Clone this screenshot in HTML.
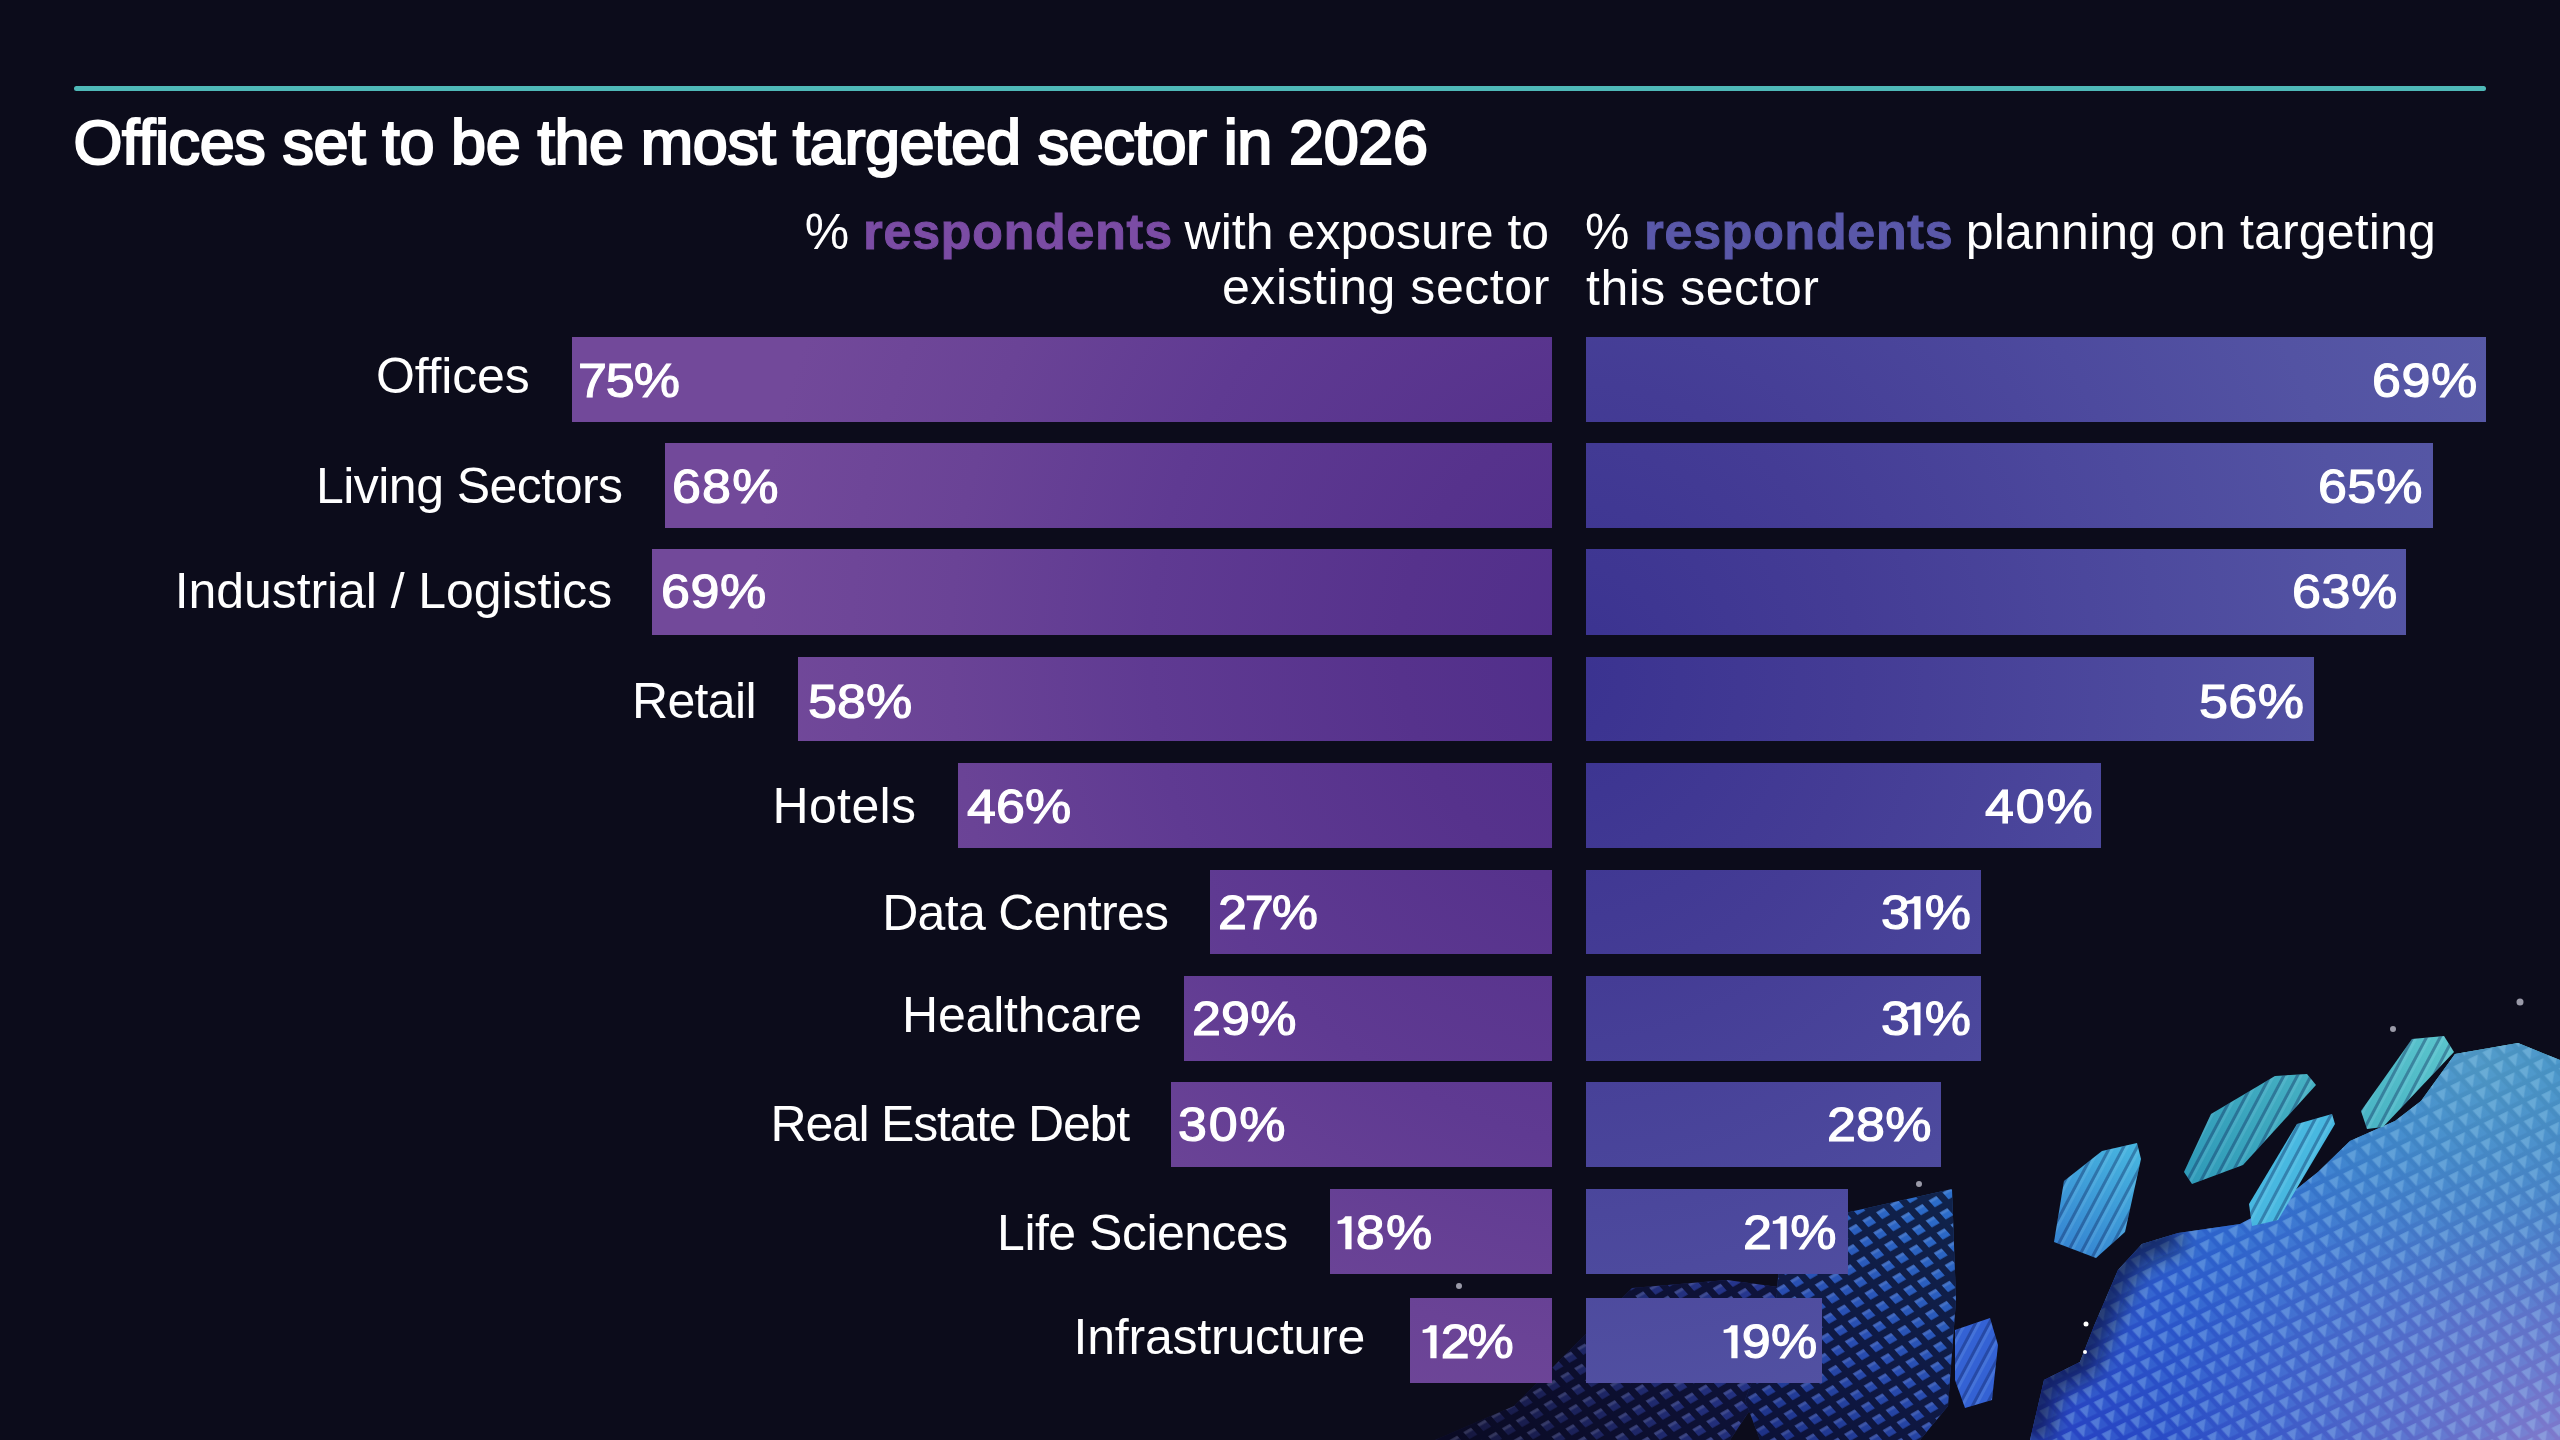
<!DOCTYPE html>
<html><head><meta charset="utf-8">
<style>
html,body{margin:0;padding:0;}
body{width:2560px;height:1440px;overflow:hidden;background:#0c0c1b;position:relative;font-family:"Liberation Sans",sans-serif;color:#fff;}
#rule{position:absolute;left:74px;top:85.5px;width:2412px;height:5px;border-radius:2.5px;background:#4fb9b8;}
.tx{position:absolute;line-height:1;white-space:nowrap;}
svg.one{vertical-align:top;}
.bl{position:absolute;background-image:radial-gradient(circle at 1650px 650px,#4e2d8a 0px,#56328c 250px,#5f3a92 500px,#6a4396 700px,#72499a 900px);background-size:2560px 1440px;background-repeat:no-repeat;}
.br{position:absolute;background-image:radial-gradient(circle at 1560px 680px,#3a3290 0px,#443c95 300px,#4d4a9e 600px,#5353a3 800px,#5759a6 1000px);background-size:2560px 1440px;background-repeat:no-repeat;}
#globe{position:absolute;left:0;top:0;}
</style></head><body>
<svg id="globe" width="2560" height="1440" viewBox="0 0 2560 1440">
<defs>
 <linearGradient id="gMain" gradientUnits="userSpaceOnUse" x1="2500" y1="1045" x2="2090" y2="1440">
  <stop offset="0" stop-color="#6ee6e8"/>
  <stop offset="0.2" stop-color="#58cef2"/>
  <stop offset="0.45" stop-color="#48a8f4"/>
  <stop offset="0.72" stop-color="#4080f0"/>
  <stop offset="1" stop-color="#3a60e4"/>
 </linearGradient>
 <radialGradient id="gLav" gradientUnits="userSpaceOnUse" cx="2560" cy="1460" r="400">
  <stop offset="0" stop-color="#dcbcf4" stop-opacity="0.95"/>
  <stop offset="0.45" stop-color="#b0a0ea" stop-opacity="0.6"/>
  <stop offset="1" stop-color="#8a90e6" stop-opacity="0"/>
 </radialGradient>
 <linearGradient id="gFieldL" gradientUnits="userSpaceOnUse" x1="1450" y1="1440" x2="1790" y2="1290">
  <stop offset="0" stop-color="#15163c"/>
  <stop offset="1" stop-color="#283a98"/>
 </linearGradient>
 <linearGradient id="gFieldR" gradientUnits="userSpaceOnUse" x1="1950" y1="1190" x2="1780" y2="1440">
  <stop offset="0" stop-color="#2c70cc"/>
  <stop offset="0.6" stop-color="#284cb0"/>
  <stop offset="1" stop-color="#1e3288"/>
 </linearGradient>
 <linearGradient id="gTeal" gradientUnits="userSpaceOnUse" x1="2450" y1="1040" x2="2190" y2="1180">
  <stop offset="0" stop-color="#5ac4cc"/>
  <stop offset="1" stop-color="#2f9ab8"/>
 </linearGradient>
 <linearGradient id="gBlue" gradientUnits="userSpaceOnUse" x1="2140" y1="1140" x2="2060" y2="1260">
  <stop offset="0" stop-color="#48b8e0"/>
  <stop offset="1" stop-color="#3480d0"/>
 </linearGradient>
 <pattern id="vox" patternUnits="userSpaceOnUse" width="16" height="16" patternTransform="rotate(-26) skewX(16)">
  <rect x="0" y="0" width="16" height="16" fill="#0c1c90" fill-opacity="0.40"/>
  <rect x="2.5" y="2" width="11" height="11.5" fill="#70c8ff" fill-opacity="0.14"/>
  <polygon points="2.5,2 13.5,2 2.5,13.5" fill="#c0ecff" fill-opacity="0.22"/>
 </pattern>
 <pattern id="voxDark" patternUnits="userSpaceOnUse" width="16" height="16" patternTransform="rotate(-30) skewX(12)">
  <path d="M0 0H16V16H0Z M4 4V13H13V4Z" fill-rule="evenodd" fill="#05061a" fill-opacity="0.72"/>
  <rect x="4" y="4" width="9" height="3" fill="#ffffff" fill-opacity="0.12"/>
 </pattern>
 <radialGradient id="gCyan" gradientUnits="userSpaceOnUse" cx="2480" cy="1060" r="260">
  <stop offset="0" stop-color="#7ee8e0" stop-opacity="0.75"/>
  <stop offset="0.6" stop-color="#60d0e0" stop-opacity="0.35"/>
  <stop offset="1" stop-color="#50c0e0" stop-opacity="0"/>
 </radialGradient>
 <clipPath id="cpMain"><polygon points="2030,1440 2044,1380 2080,1362 2094,1326 2118,1270 2142,1244 2178,1233 2240,1224 2278,1204 2318,1172 2350,1141 2395,1121 2421,1101 2455,1054 2518,1043 2560,1060 2560,1440"/></clipPath>
 <filter id="blur8" x="-20%" y="-20%" width="140%" height="140%"><feGaussianBlur stdDeviation="10"/></filter>
 <pattern id="stripes" patternUnits="userSpaceOnUse" width="12" height="12" patternTransform="rotate(28)">
  <rect x="0" y="0" width="3" height="12" fill="#0a1a50" fill-opacity="0.35"/>
  <rect x="3" y="0" width="3" height="12" fill="#c0f0ff" fill-opacity="0.12"/>
 </pattern>
</defs>
<polygon points="1435,1440 1514,1406 1632,1288 1727,1280 1800,1290 1770,1380 1730,1440" fill="url(#gFieldL)"/>
<polygon points="1435,1440 1514,1406 1632,1288 1727,1280 1800,1290 1770,1380 1730,1440" fill="url(#voxDark)"/>
<polygon points="1780,1250 1845,1213 1952,1189 1956,1300 1948,1406 1920,1440 1760,1440 1745,1400 1775,1320" fill="url(#gFieldR)"/>
<polygon points="1780,1250 1845,1213 1952,1189 1956,1300 1948,1406 1920,1440 1760,1440 1745,1400 1775,1320" fill="url(#voxDark)"/>
<polygon points="1955,1330 1990,1318 1998,1345 1992,1400 1965,1408 1955,1380" fill="#3462d4"/>
<polygon points="1955,1330 1990,1318 1998,1345 1992,1400 1965,1408 1955,1380" fill="url(#stripes)"/>
<polygon points="2030,1440 2044,1380 2080,1362 2094,1326 2118,1270 2142,1244 2178,1233 2240,1224 2278,1204 2318,1172 2350,1141 2395,1121 2421,1101 2455,1054 2518,1043 2560,1060 2560,1440" fill="url(#gMain)"/>
<polygon points="2030,1440 2044,1380 2080,1362 2094,1326 2118,1270 2142,1244 2178,1233 2240,1224 2278,1204 2318,1172 2350,1141 2395,1121 2421,1101 2455,1054 2518,1043 2560,1060 2560,1440" fill="url(#gLav)"/>
<polygon points="2030,1440 2044,1380 2080,1362 2094,1326 2118,1270 2142,1244 2178,1233 2240,1224 2278,1204 2318,1172 2350,1141 2395,1121 2421,1101 2455,1054 2518,1043 2560,1060 2560,1440" fill="url(#gCyan)"/>
<polygon points="2030,1440 2044,1380 2080,1362 2094,1326 2118,1270 2142,1244 2178,1233 2240,1224 2278,1204 2318,1172 2350,1141 2395,1121 2421,1101 2455,1054 2518,1043 2560,1060 2560,1440" fill="url(#vox)"/>
<g clip-path="url(#cpMain)"><polyline points="2030,1440 2044,1380 2080,1362 2094,1326 2118,1270 2142,1244 2178,1233" fill="none" stroke="#050818" stroke-opacity="0.55" stroke-width="34" filter="url(#blur8)"/></g>
<polygon points="2412,1039 2444,1036 2454,1052 2383,1127 2367,1129 2361,1111" fill="url(#gTeal)"/>
<polygon points="2275,1076 2307,1074 2316,1085 2243,1165 2192,1184 2184,1172 2211,1114" fill="url(#gTeal)"/>
<polygon points="2297,1124 2332,1114 2335,1124 2278,1220 2252,1226 2249,1204" fill="url(#gBlue)"/>
<polygon points="2102,1151 2137,1143 2141,1159 2125,1232 2096,1258 2054,1242 2064,1181" fill="url(#gBlue)"/>
<polygon points="2412,1039 2444,1036 2454,1052 2383,1127 2367,1129 2361,1111" fill="url(#stripes)"/>
<polygon points="2275,1076 2307,1074 2316,1085 2243,1165 2192,1184 2184,1172 2211,1114" fill="url(#stripes)"/>
<polygon points="2297,1124 2332,1114 2335,1124 2278,1220 2252,1226 2249,1204" fill="url(#stripes)"/>
<polygon points="2102,1151 2137,1143 2141,1159 2125,1232 2096,1258 2054,1242 2064,1181" fill="url(#stripes)"/>
<g fill="#9a9aa8">
 <circle cx="2520" cy="1002" r="3.5"/><circle cx="2393" cy="1029" r="3"/><circle cx="1919" cy="1184" r="3"/>
 <circle cx="1459" cy="1286" r="3"/><circle cx="2086" cy="1324" r="2.5" fill="#fff"/><circle cx="2085" cy="1352" r="2" fill="#fff"/>
</g>
</svg>
<div id="rule"></div>
<div class="bl" style="left:572px;top:337px;width:980px;height:85px;background-position:-572px -337px"></div>
<div class="br" style="left:1586px;top:337px;width:900px;height:85px;background-position:-1586px -337px"></div>
<div class="bl" style="left:665px;top:443.4px;width:887px;height:84.60000000000002px;background-position:-665px -443.4px"></div>
<div class="br" style="left:1586px;top:443.4px;width:847px;height:84.60000000000002px;background-position:-1586px -443.4px"></div>
<div class="bl" style="left:652px;top:549px;width:900px;height:86px;background-position:-652px -549px"></div>
<div class="br" style="left:1586px;top:549px;width:820px;height:86px;background-position:-1586px -549px"></div>
<div class="bl" style="left:798px;top:656.6px;width:754px;height:84.39999999999998px;background-position:-798px -656.6px"></div>
<div class="br" style="left:1586px;top:656.6px;width:728px;height:84.39999999999998px;background-position:-1586px -656.6px"></div>
<div class="bl" style="left:957.5px;top:763px;width:594.5px;height:84.5px;background-position:-957.5px -763px"></div>
<div class="br" style="left:1586px;top:763px;width:515px;height:84.5px;background-position:-1586px -763px"></div>
<div class="bl" style="left:1210px;top:869.5px;width:342px;height:84.5px;background-position:-1210px -869.5px"></div>
<div class="br" style="left:1586px;top:869.5px;width:395px;height:84.5px;background-position:-1586px -869.5px"></div>
<div class="bl" style="left:1184px;top:976px;width:368px;height:84.5px;background-position:-1184px -976px"></div>
<div class="br" style="left:1586px;top:976px;width:395px;height:84.5px;background-position:-1586px -976px"></div>
<div class="bl" style="left:1170.5px;top:1082.4px;width:381.5px;height:84.59999999999991px;background-position:-1170.5px -1082.4px"></div>
<div class="br" style="left:1586px;top:1082.4px;width:355px;height:84.59999999999991px;background-position:-1586px -1082.4px"></div>
<div class="bl" style="left:1330px;top:1189.2px;width:222px;height:84.79999999999995px;background-position:-1330px -1189.2px"></div>
<div class="br" style="left:1586px;top:1189.2px;width:262px;height:84.79999999999995px;background-position:-1586px -1189.2px"></div>
<div class="bl" style="left:1410px;top:1298.4px;width:142px;height:84.79999999999995px;background-position:-1410px -1298.4px"></div>
<div class="br" style="left:1586px;top:1298.4px;width:236px;height:84.79999999999995px;background-position:-1586px -1298.4px"></div>
<div class="tx" style="left:73.4px;top:111.3px;font-size:63px;letter-spacing:-0.42px;color:#fff;font-weight:normal;-webkit-text-stroke:2.2px #fff;">Offices set to be the most targeted sector in 2026</div>
<div class="tx" style="left:804.8px;top:206.7px;font-size:50px;letter-spacing:0.00px;color:#fff;font-weight:normal;">%</div>
<div class="tx" style="left:863.2px;top:206.7px;font-size:50px;letter-spacing:0.87px;color:#7b4ca4;font-weight:bold;-webkit-text-stroke:1.0px #7b4ca4;">respondents</div>
<div class="tx" style="left:1184.6px;top:206.7px;font-size:50px;letter-spacing:0.03px;color:#fff;font-weight:normal;">with exposure to</div>
<div class="tx" style="left:1222.0px;top:262.4px;font-size:50px;letter-spacing:0.55px;color:#fff;font-weight:normal;">existing sector</div>
<div class="tx" style="left:1585.0px;top:206.7px;font-size:50px;letter-spacing:0.00px;color:#fff;font-weight:normal;">%</div>
<div class="tx" style="left:1644.3px;top:206.7px;font-size:50px;letter-spacing:0.83px;color:#5a58a9;font-weight:bold;-webkit-text-stroke:1.0px #5a58a9;">respondents</div>
<div class="tx" style="left:1965.8px;top:206.7px;font-size:50px;letter-spacing:0.15px;color:#fff;font-weight:normal;">planning on targeting</div>
<div class="tx" style="left:1586.0px;top:263.2px;font-size:50px;letter-spacing:0.50px;color:#fff;font-weight:normal;">this sector</div>
<div class="tx" style="left:375.9px;top:350.7px;font-size:50px;letter-spacing:-0.15px;color:#fff;font-weight:normal;">Offices</div>
<div class="tx" style="left:577.8px;top:354.7px;font-size:50px;letter-spacing:-1.05px;color:#fff;font-weight:normal;-webkit-text-stroke:1.2px #fff;transform:scale(1.04,0.95);transform-origin:0 42.3px;">75%</div>
<div class="tx" style="left:2371.6px;top:354.7px;font-size:50px;letter-spacing:0.60px;color:#fff;font-weight:normal;-webkit-text-stroke:1.2px #fff;transform:scale(1.04,0.95);transform-origin:0 42.3px;">69%</div>
<div class="tx" style="left:316.0px;top:460.7px;font-size:50px;letter-spacing:-0.54px;color:#fff;font-weight:normal;">Living Sectors</div>
<div class="tx" style="left:672.1px;top:460.7px;font-size:50px;letter-spacing:1.10px;color:#fff;font-weight:normal;-webkit-text-stroke:1.2px #fff;transform:scale(1.04,0.95);transform-origin:0 42.3px;">68%</div>
<div class="tx" style="left:2318.3px;top:460.7px;font-size:50px;letter-spacing:0.25px;color:#fff;font-weight:normal;-webkit-text-stroke:1.2px #fff;transform:scale(1.04,0.95);transform-origin:0 42.3px;">65%</div>
<div class="tx" style="left:174.8px;top:566.4px;font-size:50px;letter-spacing:-0.08px;color:#fff;font-weight:normal;">Industrial / Logistics</div>
<div class="tx" style="left:661.2px;top:566.4px;font-size:50px;letter-spacing:0.60px;color:#fff;font-weight:normal;-webkit-text-stroke:1.2px #fff;transform:scale(1.04,0.95);transform-origin:0 42.3px;">69%</div>
<div class="tx" style="left:2292.4px;top:566.4px;font-size:50px;letter-spacing:0.60px;color:#fff;font-weight:normal;-webkit-text-stroke:1.2px #fff;transform:scale(1.04,0.95);transform-origin:0 42.3px;">63%</div>
<div class="tx" style="left:632.0px;top:676.2px;font-size:50px;letter-spacing:-0.65px;color:#fff;font-weight:normal;">Retail</div>
<div class="tx" style="left:807.6px;top:675.5px;font-size:50px;letter-spacing:0.05px;color:#fff;font-weight:normal;-webkit-text-stroke:1.2px #fff;transform:scale(1.04,0.95);transform-origin:0 42.3px;">58%</div>
<div class="tx" style="left:2199.3px;top:675.5px;font-size:50px;letter-spacing:0.45px;color:#fff;font-weight:normal;-webkit-text-stroke:1.2px #fff;transform:scale(1.04,0.95);transform-origin:0 42.3px;">56%</div>
<div class="tx" style="left:772.4px;top:780.5px;font-size:50px;letter-spacing:0.40px;color:#fff;font-weight:normal;">Hotels</div>
<div class="tx" style="left:966.8px;top:781.2px;font-size:50px;letter-spacing:0.10px;color:#fff;font-weight:normal;-webkit-text-stroke:1.2px #fff;transform:scale(1.04,0.95);transform-origin:0 42.3px;">46%</div>
<div class="tx" style="left:1985.0px;top:781.2px;font-size:50px;letter-spacing:1.80px;color:#fff;font-weight:normal;-webkit-text-stroke:1.2px #fff;transform:scale(1.04,0.95);transform-origin:0 42.3px;">40%</div>
<div class="tx" style="left:882.2px;top:888.0px;font-size:50px;letter-spacing:-0.70px;color:#fff;font-weight:normal;">Data Centres</div>
<div class="tx" style="left:1218.0px;top:887.2px;font-size:50px;letter-spacing:-2.00px;color:#fff;font-weight:normal;-webkit-text-stroke:1.2px #fff;transform:scale(1.04,0.95);transform-origin:0 42.3px;">27%</div>
<div class="tx" style="left:1881.0px;top:887.2px;font-size:50px;letter-spacing:-3.80px;color:#fff;font-weight:normal;-webkit-text-stroke:1.2px #fff;transform:scale(1.04,0.95);transform-origin:0 42.3px;">3<svg class="one" width="18.0" height="50" viewBox="0 0 18 50" preserveAspectRatio="none"><path d="M8 7.4 H14 V42.3 H8 V15.2 Q4.5 15.6 0.6 15.8 V12.2 Q6 11.6 8 7.4 Z" fill="#fff"/></svg>%</div>
<div class="tx" style="left:902.0px;top:990.4px;font-size:50px;letter-spacing:-0.18px;color:#fff;font-weight:normal;">Healthcare</div>
<div class="tx" style="left:1191.7px;top:993.3px;font-size:50px;letter-spacing:0.15px;color:#fff;font-weight:normal;-webkit-text-stroke:1.2px #fff;transform:scale(1.04,0.95);transform-origin:0 42.3px;">29%</div>
<div class="tx" style="left:1881.0px;top:993.3px;font-size:50px;letter-spacing:-3.80px;color:#fff;font-weight:normal;-webkit-text-stroke:1.2px #fff;transform:scale(1.04,0.95);transform-origin:0 42.3px;">3<svg class="one" width="18.0" height="50" viewBox="0 0 18 50" preserveAspectRatio="none"><path d="M8 7.4 H14 V42.3 H8 V15.2 Q4.5 15.6 0.6 15.8 V12.2 Q6 11.6 8 7.4 Z" fill="#fff"/></svg>%</div>
<div class="tx" style="left:770.5px;top:1099.3px;font-size:50px;letter-spacing:-1.23px;color:#fff;font-weight:normal;">Real Estate Debt</div>
<div class="tx" style="left:1177.7px;top:1099.2px;font-size:50px;letter-spacing:1.65px;color:#fff;font-weight:normal;-webkit-text-stroke:1.2px #fff;transform:scale(1.04,0.95);transform-origin:0 42.3px;">30%</div>
<div class="tx" style="left:1827.3px;top:1099.2px;font-size:50px;letter-spacing:0.15px;color:#fff;font-weight:normal;-webkit-text-stroke:1.2px #fff;transform:scale(1.04,0.95);transform-origin:0 42.3px;">28%</div>
<div class="tx" style="left:997.1px;top:1208.2px;font-size:50px;letter-spacing:-0.51px;color:#fff;font-weight:normal;">Life Sciences</div>
<div class="tx" style="left:1336.5px;top:1207.2px;font-size:50px;letter-spacing:1.20px;color:#fff;font-weight:normal;-webkit-text-stroke:1.2px #fff;transform:scale(1.04,0.95);transform-origin:0 42.3px;"><svg class="one" width="18.0" height="50" viewBox="0 0 18 50" preserveAspectRatio="none"><path d="M8 7.4 H14 V42.3 H8 V15.2 Q4.5 15.6 0.6 15.8 V12.2 Q6 11.6 8 7.4 Z" fill="#fff"/></svg>8%</div>
<div class="tx" style="left:1742.9px;top:1207.2px;font-size:50px;letter-spacing:-0.30px;color:#fff;font-weight:normal;-webkit-text-stroke:1.2px #fff;transform:scale(1.04,0.95);transform-origin:0 42.3px;">2<svg class="one" width="18.0" height="50" viewBox="0 0 18 50" preserveAspectRatio="none"><path d="M8 7.4 H14 V42.3 H8 V15.2 Q4.5 15.6 0.6 15.8 V12.2 Q6 11.6 8 7.4 Z" fill="#fff"/></svg>%</div>
<div class="tx" style="left:1073.6px;top:1312.2px;font-size:50px;letter-spacing:-0.22px;color:#fff;font-weight:normal;">Infrastructure</div>
<div class="tx" style="left:1422.3px;top:1316.4px;font-size:50px;letter-spacing:-2.00px;color:#fff;font-weight:normal;-webkit-text-stroke:1.2px #fff;transform:scale(1.04,0.95);transform-origin:0 42.3px;"><svg class="one" width="18.0" height="50" viewBox="0 0 18 50" preserveAspectRatio="none"><path d="M8 7.4 H14 V42.3 H8 V15.2 Q4.5 15.6 0.6 15.8 V12.2 Q6 11.6 8 7.4 Z" fill="#fff"/></svg>2%</div>
<div class="tx" style="left:1722.7px;top:1316.4px;font-size:50px;letter-spacing:0.40px;color:#fff;font-weight:normal;-webkit-text-stroke:1.2px #fff;transform:scale(1.04,0.95);transform-origin:0 42.3px;"><svg class="one" width="18.0" height="50" viewBox="0 0 18 50" preserveAspectRatio="none"><path d="M8 7.4 H14 V42.3 H8 V15.2 Q4.5 15.6 0.6 15.8 V12.2 Q6 11.6 8 7.4 Z" fill="#fff"/></svg>9%</div>
</body></html>
